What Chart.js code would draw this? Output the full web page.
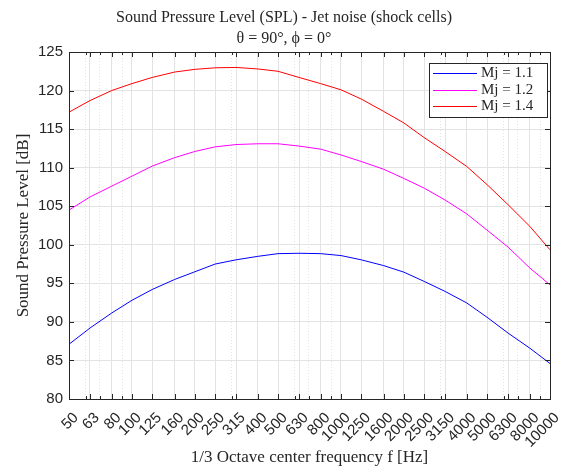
<!DOCTYPE html>
<html>
<head>
<meta charset="utf-8">
<title>SPL - Jet noise (shock cells)</title>
<script src="https://cdn.jsdelivr.net/npm/chart.js@4.4.1/dist/chart.umd.min.js"></script>
<style>
  html, body { margin: 0; padding: 0; background: #fff; }
  #wrap { width: 573px; height: 473px; }
</style>
</head>
<body>
<div id="wrap"><canvas id="splChart" width="573" height="473"></canvas></div>
<script>
// 1/3 octave centre frequencies [Hz] (also the x tick labels)
const freqs = [50, 63, 80, 100, 125, 160, 200, 250, 315, 400, 500, 630, 800,
               1000, 1250, 1600, 2000, 2500, 3150, 4000, 5000, 6300, 8000, 10000];
// log minor positions that get a dotted grid line
const minorFreqs = [60, 70, 90, 300, 600, 700, 900, 3000, 6000, 7000, 9000];
const yTicks = [80, 85, 90, 95, 100, 105, 110, 115, 120, 125];

// SPL [dB]
const splMj11 = [87.1, 89.2, 91.15, 92.8, 94.2, 95.5, 96.5, 97.5, 98.05, 98.5, 98.85, 98.9,
                 98.85, 98.6, 98.05, 97.3, 96.45, 95.25, 93.95, 92.45, 90.6, 88.55, 86.6, 84.6];
const splMj12 = [104.5, 106.2, 107.6, 108.9, 110.2, 111.3, 112.1, 112.7, 113.0, 113.1, 113.1, 112.8,
                 112.4, 111.65, 110.8, 109.8, 108.6, 107.35, 105.8, 104.0, 101.9, 99.7, 97.0, 94.8];
const splMj14 = [117.2, 118.7, 120.0, 120.9, 121.7, 122.4, 122.75, 122.95, 123.0, 122.8, 122.5, 121.7,
                 120.9, 120.1, 118.9, 117.3, 115.8, 113.9, 112.1, 110.15, 107.8, 105.2, 102.4, 99.35];

const seriesLabels = ['Mj = 1.1', 'Mj = 1.2', 'Mj = 1.4'];
const seriesColors = ['#0000ff', '#ff00ff', '#ff0000'];

const axisColor = '#262626';
const gridColor = '#e3e3e3';
const serif = "'Liberation Serif', 'Times New Roman', serif";
const sans = "'Liberation Sans', Arial, sans-serif";

const xTickValues = freqs.concat(minorFreqs).sort((a, b) => a - b);

function toPoints(values) {
    return freqs.map((f, i) => ({ x: f, y: values[i] }));
}

// frame, inner tick marks and the boxed legend (MATLAB look)
const matlabFrame = {
    id: 'matlabFrame',
    afterDraw(chart) {
        const { ctx, chartArea: a, scales } = chart;
        ctx.save();
        ctx.strokeStyle = axisColor;
        ctx.lineWidth = 1;
        ctx.beginPath();
        scales.x.ticks.forEach(t => {
            const px = Math.round(scales.x.getPixelForValue(t.value)) + 0.5;
            const len = freqs.includes(t.value) ? 5 : 3;
            ctx.moveTo(px, a.bottom); ctx.lineTo(px, a.bottom - len);
            ctx.moveTo(px, a.top); ctx.lineTo(px, a.top + len);
        });
        scales.y.ticks.forEach(t => {
            const py = Math.round(scales.y.getPixelForValue(t.value)) + 0.5;
            ctx.moveTo(a.left, py); ctx.lineTo(a.left + 5, py);
            ctx.moveTo(a.right, py); ctx.lineTo(a.right - 5, py);
        });
        ctx.stroke();
        ctx.strokeRect(a.left + 0.5, a.top + 0.5, a.right - a.left, a.bottom - a.top);

        // legend box
        const lx = a.right - 121, ly = a.top + 11, lw = 118, lh = 54;
        ctx.fillStyle = '#fff';
        ctx.fillRect(lx, ly, lw, lh);
        ctx.strokeRect(lx + 0.5, ly + 0.5, lw, lh);
        ctx.font = '15px ' + serif;
        ctx.textAlign = 'left';
        ctx.textBaseline = 'middle';
        chart.data.datasets.forEach((ds, i) => {
            const ry = ly + 10 + i * 16.7;
            ctx.strokeStyle = ds.borderColor;
            ctx.beginPath();
            ctx.moveTo(lx + 4, Math.round(ry) + 0.5);
            ctx.lineTo(lx + 48, Math.round(ry) + 0.5);
            ctx.stroke();
            ctx.fillStyle = axisColor;
            ctx.fillText(ds.label, lx + 52, ry);
        });
        ctx.restore();
    }
};

const ctx = document.getElementById('splChart').getContext('2d');

const splChart = new Chart(ctx, {
    type: 'line',
    data: {
        datasets: [splMj11, splMj12, splMj14].map((vals, i) => ({
            label: seriesLabels[i],
            data: toPoints(vals),
            borderColor: seriesColors[i],
            backgroundColor: seriesColors[i],
            borderWidth: 1,
            pointRadius: 0,
            tension: 0,
            fill: false
        }))
    },
    options: {
        responsive: false,
        animation: false,
        // left/right padding keeps the title centred like the original figure
        layout: { padding: { left: 18, right: 23, top: 0, bottom: 0 } },
        plugins: {
            legend: { display: false },
            tooltip: { enabled: false },
            title: {
                display: true,
                text: ['Sound Pressure Level (SPL) - Jet noise (shock cells)', 'θ = 90°, ϕ = 0°'],
                color: axisColor,
                font: { family: serif, size: 16, weight: 'normal', lineHeight: 1.3125 },
                padding: { top: 7, bottom: 3 }
            }
        },
        scales: {
            x: {
                type: 'logarithmic',
                min: 50,
                max: 10000,
                afterBuildTicks: (scale) => {
                    scale.ticks = xTickValues.map(v => ({ value: v }));
                },
                afterFit: (scale) => { scale.height = 74; },
                ticks: {
                    autoSkip: false,
                    minRotation: 45,
                    maxRotation: 45,
                    padding: 10,
                    labelOffset: 7,
                    color: axisColor,
                    font: { family: sans, size: 15 },
                    callback: (value) => freqs.includes(value) ? String(value) : ''
                },
                grid: {
                    color: gridColor,
                    lineWidth: 1,
                    drawTicks: false
                },
                border: {
                    color: axisColor,
                    dash: (c) => (c.tick && !freqs.includes(c.tick.value)) ? [1, 2] : []
                },
                title: {
                    display: true,
                    text: '1/3 Octave center frequency f [Hz]',
                    color: axisColor,
                    font: { family: serif, size: 17, lineHeight: 1.2 },
                    padding: { top: 0, bottom: 5 }
                }
            },
            y: {
                min: 80,
                max: 125,
                afterBuildTicks: (scale) => {
                    scale.ticks = yTicks.map(v => ({ value: v }));
                },
                afterFit: (scale) => { scale.width = 51; },
                ticks: {
                    padding: 6,
                    color: axisColor,
                    font: { family: sans, size: 15 }
                },
                grid: {
                    color: gridColor,
                    lineWidth: 1,
                    drawTicks: false
                },
                border: { color: axisColor },
                title: {
                    display: true,
                    text: 'Sound Pressure Level [dB]',
                    color: axisColor,
                    font: { family: serif, size: 17, lineHeight: 1.2 },
                    padding: { top: -5, bottom: 0 }
                }
            }
        }
    },
    plugins: [matlabFrame]
});
</script>
</body>
</html>
